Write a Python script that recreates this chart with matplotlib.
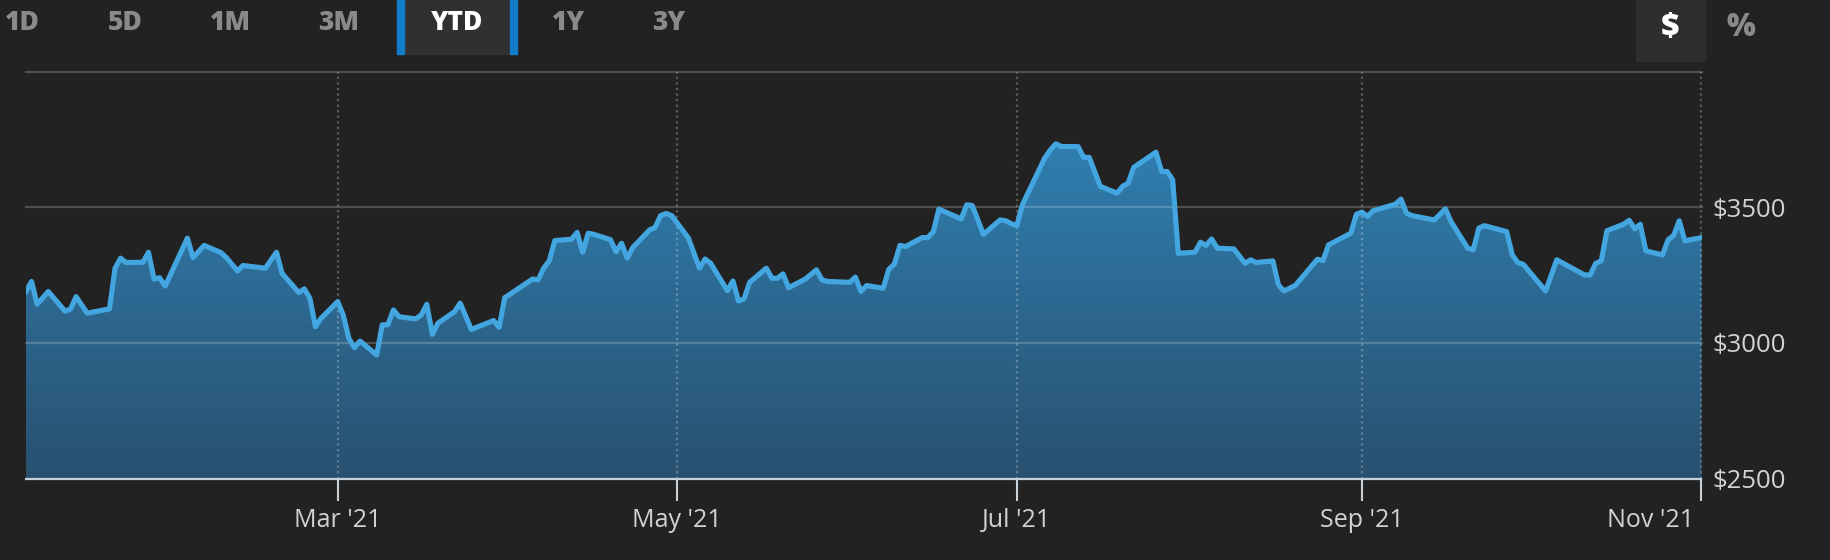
import matplotlib
matplotlib.use("Agg")
import matplotlib.pyplot as plt
import matplotlib.dates as mdates
import matplotlib.transforms as mtransforms
import numpy as np
import pandas as pd
from matplotlib.colors import LinearSegmentedColormap
from matplotlib.patches import Rectangle

# YTD closing prices (vertices of the line)
dates = [
    "2021-01-04", "2021-01-05", "2021-01-06", "2021-01-08", "2021-01-11", "2021-01-12",
    "2021-01-13", "2021-01-15", "2021-01-19", "2021-01-20", "2021-01-21", "2021-01-22",
    "2021-01-25", "2021-01-26", "2021-01-27", "2021-01-28", "2021-01-29", "2021-02-02",
    "2021-02-03", "2021-02-05", "2021-02-08", "2021-02-09", "2021-02-11", "2021-02-12",
    "2021-02-16", "2021-02-18", "2021-02-19", "2021-02-22", "2021-02-23", "2021-02-24",
    "2021-02-25", "2021-02-26", "2021-03-01", "2021-03-02", "2021-03-03", "2021-03-04",
    "2021-03-05", "2021-03-08", "2021-03-09", "2021-03-10", "2021-03-11", "2021-03-12",
    "2021-03-15", "2021-03-16", "2021-03-17", "2021-03-18", "2021-03-19", "2021-03-22",
    "2021-03-23", "2021-03-25", "2021-03-29", "2021-03-30", "2021-03-31", "2021-04-05",
    "2021-04-06", "2021-04-07", "2021-04-08", "2021-04-09", "2021-04-12", "2021-04-13",
    "2021-04-14", "2021-04-15", "2021-04-16", "2021-04-19", "2021-04-20", "2021-04-21",
    "2021-04-22", "2021-04-23", "2021-04-26", "2021-04-27", "2021-04-28", "2021-04-29",
    "2021-04-30", "2021-05-03", "2021-05-05", "2021-05-06", "2021-05-07", "2021-05-10",
    "2021-05-11", "2021-05-12", "2021-05-13", "2021-05-14", "2021-05-17", "2021-05-18",
    "2021-05-19", "2021-05-20", "2021-05-21", "2021-05-24", "2021-05-26", "2021-05-27",
    "2021-05-28", "2021-06-01", "2021-06-02", "2021-06-03", "2021-06-04", "2021-06-07",
    "2021-06-08", "2021-06-09", "2021-06-10", "2021-06-11", "2021-06-14", "2021-06-15",
    "2021-06-16", "2021-06-17", "2021-06-21", "2021-06-22", "2021-06-23", "2021-06-25",
    "2021-06-28", "2021-06-29", "2021-06-30", "2021-07-01", "2021-07-02", "2021-07-06",
    "2021-07-07", "2021-07-08", "2021-07-09", "2021-07-12", "2021-07-13", "2021-07-14",
    "2021-07-16", "2021-07-19", "2021-07-20", "2021-07-21", "2021-07-22", "2021-07-26",
    "2021-07-27", "2021-07-28", "2021-07-29", "2021-07-30", "2021-08-02", "2021-08-03",
    "2021-08-04", "2021-08-05", "2021-08-06", "2021-08-09", "2021-08-11", "2021-08-12",
    "2021-08-13", "2021-08-16", "2021-08-17", "2021-08-18", "2021-08-20", "2021-08-24",
    "2021-08-25", "2021-08-26", "2021-08-30", "2021-08-31", "2021-09-01", "2021-09-02",
    "2021-09-03", "2021-09-07", "2021-09-08", "2021-09-09", "2021-09-10", "2021-09-14",
    "2021-09-16", "2021-09-17", "2021-09-20", "2021-09-21", "2021-09-22", "2021-09-23",
    "2021-09-27", "2021-09-28", "2021-09-29", "2021-09-30", "2021-10-04", "2021-10-06",
    "2021-10-11", "2021-10-12", "2021-10-13", "2021-10-14", "2021-10-15", "2021-10-18",
    "2021-10-19", "2021-10-20", "2021-10-21", "2021-10-22", "2021-10-25", "2021-10-26",
    "2021-10-27", "2021-10-28", "2021-10-29", "2021-11-01",
]
prices = [
    3190, 3227, 3143, 3190, 3118, 3125,
    3171, 3110, 3126, 3276, 3313, 3297,
    3298, 3335, 3236, 3241, 3210, 3387,
    3315, 3360, 3334, 3315, 3266, 3286,
    3276, 3335, 3257, 3186, 3200, 3165,
    3060, 3091, 3153, 3103, 3017, 2983,
    3007, 2956, 3067, 3067, 3122, 3097,
    3089, 3103, 3143, 3032, 3073, 3116,
    3147, 3050, 3083, 3058, 3167, 3236,
    3233, 3276, 3303, 3378, 3383, 3408,
    3335, 3405, 3401, 3381, 3337, 3368,
    3313, 3352, 3417, 3426, 3470, 3478,
    3470, 3387, 3276, 3310, 3294, 3193,
    3229, 3155, 3163, 3224, 3276, 3239,
    3239, 3255, 3204, 3236, 3270, 3233,
    3227, 3224, 3243, 3190, 3212, 3202,
    3272, 3291, 3360, 3356, 3389, 3389,
    3411, 3494, 3458, 3510, 3507, 3401,
    3454, 3451, 3440, 3433, 3510, 3682,
    3712, 3735, 3725, 3725, 3685, 3685,
    3578, 3553, 3578, 3590, 3648, 3704,
    3633, 3633, 3602, 3331, 3335, 3372,
    3360, 3384, 3350, 3347, 3294, 3307,
    3297, 3303, 3214, 3192, 3212, 3309,
    3304, 3362, 3405, 3475, 3483, 3467,
    3488, 3512, 3531, 3479, 3470, 3454,
    3495, 3448, 3350, 3344, 3424, 3433,
    3411, 3325, 3297, 3290, 3192, 3307,
    3251, 3251, 3294, 3303, 3414, 3438,
    3453, 3421, 3438, 3340, 3325, 3381,
    3397, 3451, 3377, 3389,
]

tick_dates = ["2021-03-01", "2021-05-01", "2021-07-01", "2021-09-01", "2021-11-01"]
tick_labels = ["Mar '21", "May '21", "Jul '21", "Sep '21", "Nov '21"]
y_ticks = [2500, 3000, 3500]
y_grid = [3000, 3500, 4000]
buttons = ["1D", "5D", "1M", "3M", "YTD", "1Y", "3Y"]
active_button = "YTD"

BG = "#222222"
W, H = 1830, 560

plt.rcParams["font.family"] = ["Open Sans", "DejaVu Sans"]

x = mdates.date2num(pd.to_datetime(dates))
y = np.array(prices, dtype=float)
xt = mdates.date2num(pd.to_datetime(tick_dates))

fig = plt.figure(figsize=(W / 100, H / 100), dpi=100, facecolor=BG)
ax = fig.add_axes([26 / W, 1 - 478.5 / H, (1701.5 - 26) / W, (478.5 - 72) / H])
ax.set_facecolor(BG)

# gradient fill under the line, clipped to the area polygon
poly = ax.fill_between(x, y, 2500, facecolor="none", edgecolor="none")
cmap = LinearSegmentedColormap.from_list("area", ["#29506f", "#3189be"])
grad = np.linspace(0, 1, 256).reshape(-1, 1)
im = ax.imshow(grad, extent=[x[0], x[-1], 2500, 4000], origin="lower",
               aspect="auto", cmap=cmap, zorder=1)
im.set_clip_path(poly.get_paths()[0], transform=ax.transData)

# grid lines drawn over the fill
for g in y_grid:
    ax.axhline(g, color="white", alpha=0.2, lw=1.6, zorder=2, clip_on=False)
for t in xt:
    ax.axvline(t, color="white", alpha=0.26, lw=1.6, ls=(0, (1, 1.5)), zorder=2)

ax.plot(x, y, color="#43a6e0", lw=3.7, solid_joinstyle="round", zorder=3)

ax.set_xlim(x[0], x[-1])
ax.set_ylim(2500, 4000)

for s in ["top", "left", "right"]:
    ax.spines[s].set_visible(False)
ax.spines["bottom"].set_color("#c5d0da")
ax.spines["bottom"].set_linewidth(1.6)
ax.spines["bottom"].set_zorder(4)

ax.set_xticks(xt)
ax.set_xticklabels(tick_labels)
ax.tick_params(axis="x", length=16, width=1.5, color="#c8d0d8", pad=5,
               labelsize=18, labelcolor="#d2d2d2")
last = ax.get_xticklabels()[-1]
last.set_ha("right")
last.set_transform(last.get_transform() +
                   mtransforms.ScaledTranslation(-7 / 100, 0, fig.dpi_scale_trans))

ax.yaxis.tick_right()
ax.set_yticks(y_ticks)
ax.set_yticklabels([f"${v}" for v in y_ticks])
ax.tick_params(axis="y", length=0, pad=8, labelsize=18.5, labelcolor="#d2d2d2")

# range selector buttons
btn_x = [22, 125, 230, 339, 457, 568, 669]
fig.patches.append(Rectangle((397 / W, 1 - 54 / H), 120 / W, 54 / H,
                             transform=fig.transFigure, color="#303030", zorder=0))
for bx in (397, 510):
    fig.patches.append(Rectangle((bx / W, 1 - 54 / H), 7 / W, 54 / H,
                                 transform=fig.transFigure, color="#137cc9", zorder=1))
for label, bx in zip(buttons, btn_x):
    fig.text(bx / W, 1 - 23 / H, label, ha="center", va="center", fontsize=19,
             fontweight=800, color="white" if label == active_button else "#8a8a8a")

fig.patches.append(Rectangle((1636 / W, 1 - 61 / H), 69 / W, 61 / H,
                             transform=fig.transFigure, color="#2e2e2e", zorder=0))
fig.text(1670 / W, 1 - 28 / H, "$", ha="center", va="center", fontsize=23,
         fontweight=800, color="white")
fig.text(1741 / W, 1 - 28 / H, "%", ha="center", va="center", fontsize=22,
         fontweight=800, color="#8a8a8a")

fig.savefig("out.png", dpi=100, facecolor=BG)
